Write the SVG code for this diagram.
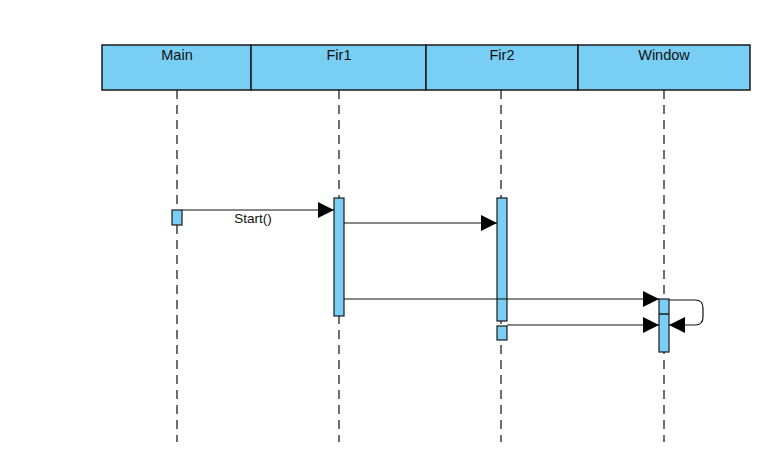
<svg xmlns="http://www.w3.org/2000/svg" width="762" height="462" viewBox="0 0 762 462">
<style>
.hdr{fill:#79CEF4;stroke:#1a1a1a;stroke-width:1.5}
.act{fill:#79CEF4;stroke:#1a1a1a;stroke-width:1.2}
.life{stroke:#222;stroke-width:1.3;stroke-dasharray:9,6;fill:none}
.msg{stroke:#111;stroke-width:1.2;fill:none}
.t{font-family:"Liberation Sans",Arial,sans-serif;font-size:14.5px;fill:#111;text-anchor:middle}
.lbl{font-family:"Liberation Sans",Arial,sans-serif;font-size:13.5px;fill:#111;text-anchor:middle}
</style>
<defs>
<marker id="ah" markerWidth="16" markerHeight="16" refX="16" refY="8" orient="auto" markerUnits="userSpaceOnUse">
<path d="M0,0 L16,8 L0,16 Z" fill="#000"/>
</marker>
</defs>
<rect width="762" height="462" fill="#fff"/>
<g id="lifelines">
<line class="life" x1="177" y1="90" x2="177" y2="442"/>
<line class="life" x1="339" y1="90" x2="339" y2="442"/>
<line class="life" x1="501" y1="90" x2="501" y2="442"/>
<line class="life" x1="664" y1="90" x2="664" y2="442"/>
</g>
<g id="header-main"><rect class="hdr" x="102" y="45" width="149" height="45"/><text class="t" x="177" y="60">Main</text></g>
<g id="header-fir1"><rect class="hdr" x="251" y="45" width="175" height="45"/><text class="t" x="339" y="60">Fir1</text></g>
<g id="header-fir2"><rect class="hdr" x="426" y="45" width="152" height="45"/><text class="t" x="502" y="60">Fir2</text></g>
<g id="header-window"><rect class="hdr" x="578" y="45" width="172" height="45"/><text class="t" x="664" y="60">Window</text></g>
<g id="act-main"><rect class="act" x="172" y="210" width="10" height="15"/></g>
<g id="act-fir1"><rect class="act" x="334" y="198" width="10" height="118"/></g>
<g id="act-fir2a"><rect class="act" x="497" y="198" width="10" height="123"/></g>
<g id="act-fir2b"><rect class="act" x="497" y="326" width="10" height="14"/></g>
<g id="act-window"><rect class="act" x="659" y="299" width="10" height="53"/><line x1="659" y1="314" x2="669" y2="314" stroke="#1a1a1a" stroke-width="1.5"/></g>
<g id="connectors">
<line class="msg" x1="182" y1="210" x2="334" y2="210" marker-end="url(#ah)"/>
<text class="lbl" x="253" y="223">Start()</text>
<line class="msg" x1="344" y1="223" x2="497" y2="223" marker-end="url(#ah)"/>
<line class="msg" x1="344" y1="299" x2="659" y2="299" marker-end="url(#ah)"/>
<line class="msg" x1="507" y1="325" x2="659" y2="325" marker-end="url(#ah)"/>
<path class="msg" d="M669,300 L695,300 Q703,300 703,308 L703,317 Q703,325 695,325 L669,325" marker-end="url(#ah)"/>
</g>
</svg>
